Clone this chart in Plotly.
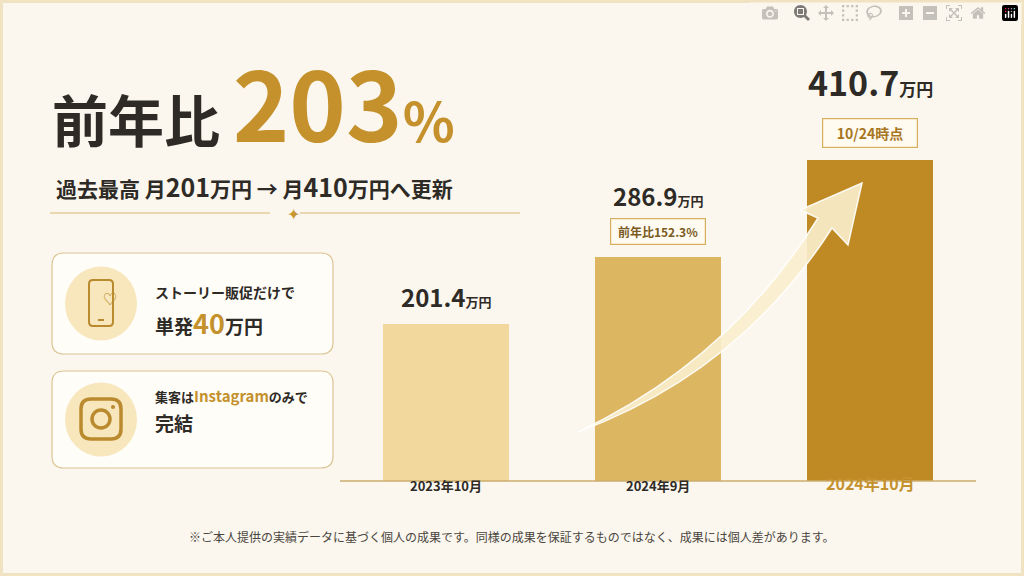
import plotly.graph_objects as go

categories = ["2023年10月", "2024年9月", "2024年10月"]
values = [201.4, 286.9, 410.7]
value_labels = ["201.4", "286.9", "410.7"]
pill_labels = [None, "前年比152.3%", "10/24時点"]
bar_colors = ["#F2D89C", "#DDB661", "#BF8A24"]

W, H = 1024, 576
F = "Noto Sans CJK JP"
DARK = "#2E2A26"
GOLD = "#C4912C"

def px(x): return x / W
def py(y): return 1 - y / H

fig = go.Figure()
fig.add_trace(go.Bar(x=categories, y=values, marker=dict(color=bar_colors, line=dict(width=0)),
                     width=0.59, hoverinfo="skip"))

shapes, ann = [], []

shapes.append(dict(type="rect", xref="paper", yref="paper", x0=0, y0=0, x1=1, y1=1,
                   line=dict(color="#F1E3C2", width=6), fillcolor="rgba(0,0,0,0)", layer="below"))

def rrect(x0, y0, x1, y1, r, **kw):
    p = (f"M {px(x0+r)} {py(y0)} L {px(x1-r)} {py(y0)} Q {px(x1)} {py(y0)} {px(x1)} {py(y0+r)} "
         f"L {px(x1)} {py(y1-r)} Q {px(x1)} {py(y1)} {px(x1-r)} {py(y1)} L {px(x0+r)} {py(y1)} "
         f"Q {px(x0)} {py(y1)} {px(x0)} {py(y1-r)} L {px(x0)} {py(y0+r)} Q {px(x0)} {py(y0)} {px(x0+r)} {py(y0)} Z")
    d = dict(type="path", xref="paper", yref="paper", path=p)
    d.update(kw)
    return d

for a, b in [(50, 270), (300, 520)]:
    shapes.append(dict(type="line", xref="paper", yref="paper", x0=px(a), x1=px(b), y0=py(213), y1=py(213),
                       line=dict(color="#D9B871", width=1.2)))
ann.append(dict(x=px(285), y=py(213), text="✦", font=dict(size=16, color="#C9962E")))

for y0, y1 in [(253, 354), (371, 468)]:
    shapes.append(rrect(52, y0, 333, y1, 12, fillcolor="#FFFDF8", line=dict(color="#DCC494", width=1.2)))
    cy = (y0 + y1) / 2
    shapes.append(dict(type="circle", xref="paper", yref="paper", x0=px(65), x1=px(137), y0=py(cy + 37), y1=py(cy - 37),
                       fillcolor="#F8E6BC", line=dict(width=0)))
shapes.append(rrect(89, 280, 113, 326, 4, fillcolor="rgba(0,0,0,0)", line=dict(color="#B98A2E", width=2)))
shapes.append(dict(type="line", xref="paper", yref="paper", x0=px(98), x1=px(104), y0=py(320), y1=py(320),
                   line=dict(color="#B98A2E", width=2)))
ann.append(dict(x=px(101), y=py(298), text="♡", font=dict(size=14, color="#B98A2E")))
shapes.append(rrect(81, 399, 121, 439, 10, fillcolor="rgba(0,0,0,0)", line=dict(color="#B98A2E", width=3.5)))
shapes.append(dict(type="circle", xref="paper", yref="paper", x0=px(92), x1=px(110), y0=py(428), y1=py(410),
                   fillcolor="rgba(0,0,0,0)", line=dict(color="#B98A2E", width=3.5)))
shapes.append(dict(type="circle", xref="paper", yref="paper", x0=px(111), x1=px(115), y0=py(409), y1=py(405),
                   fillcolor="#B98A2E", line=dict(width=0)))

ann.append(dict(x=px(153), y=py(292), xanchor="left", text="<b>ストーリー販促だけで</b>", font=dict(size=14, color=DARK)))
ann.append(dict(x=px(153), y=py(322), xanchor="left",
                text=f"<b>単発<span style='color:{GOLD};font-size:27px'>40</span>万円</b>", font=dict(size=19, color=DARK)))
ann.append(dict(x=px(153), y=py(408), xanchor="left",
                text=f"<b>集客は<span style='color:{GOLD};font-size:15px'>Instagram</span>のみで</b>", font=dict(size=13, color=DARK)))
ann.append(dict(x=px(153), y=py(438), xanchor="left", text="<b>完結</b>", font=dict(size=19, color=DARK)))

ann.append(dict(x=px(50), y=py(100), xanchor="left", yanchor="middle",
                text=(f"<b>前年比 <span style='font-size:96px;color:{GOLD}'>203</span>"
                      f"<span style='font-size:54px;color:{GOLD}'>%</span></b>"),
                font=dict(size=56, color=DARK)))
ann.append(dict(x=px(54), y=py(166), xanchor="left",
                text="<b>過去最高 月<span style='font-size:25px'>201</span>万円 → 月<span style='font-size:25px'>410</span>万円へ更新</b>",
                font=dict(size=21, color=DARK)))

arrow = (f"M {px(578)} {py(432)} Q {px(730)} {py(360)} {px(818)} {py(218)} L {px(800)} {py(210)} "
         f"L {px(862)} {py(183)} L {px(848)} {py(245)} L {px(832)} {py(228)} Q {px(740)} {py(372)} {px(578)} {py(432)} Z")
shapes.append(dict(type="path", xref="paper", yref="paper", path=arrow,
                   fillcolor="rgba(250,238,205,0.9)", line=dict(color="rgba(255,255,255,0.9)", width=1.5)))

for i, (c, v, lab, pill) in enumerate(zip(categories, values, value_labels, pill_labels)):
    big = 34 if i == 2 else 24
    small = 17 if i == 2 else 13
    ann.append(dict(x=c, y=v, xref="x", yref="y", yanchor="bottom", yshift=(52 if i == 2 else (42 if pill else 8)),
                    text=f"<b>{lab}<span style='font-size:{small}px'>万円</span></b>", font=dict(size=big, color=DARK)))
    if pill:
        ann.append(dict(x=c, y=v, xref="x", yref="y", yanchor="bottom", yshift=(12 if i == 2 else 12),
                        text=(f"<b>   {pill}   </b>" if i == 2 else f"<b> {pill} </b>"),
                        font=dict(size=(14 if i == 2 else 12), color=("#A8761E" if i == 2 else "#7A5A22")),
                        bgcolor="#FFFBF0", bordercolor="#D6AE5C", borderwidth=1.2, borderpad=4))
    ann.append(dict(x=c, xref="x", y=py(497), yref="paper",
                    text=f"<b>{c}</b>", font=dict(size=(16 if i == 2 else 13), color=(GOLD if i == 2 else DARK))))

shapes.append(dict(type="line", xref="paper", yref="paper", x0=px(340), x1=px(976), y0=py(481), y1=py(481),
                   line=dict(color="#CDAE6E", width=1.5)))

ann.append(dict(x=0.5, y=py(547), text="※ご本人提供の実績データに基づく個人の成果です。同様の成果を保証するものではなく、成果には個人差があります。",
                font=dict(size=12, color="#4A4540")))

for a in ann:
    a.setdefault("xref", "paper"); a.setdefault("yref", "paper"); a.setdefault("showarrow", False)

fig.update_layout(
    width=W, height=H, margin=dict(l=0, r=0, t=0, b=0),
    paper_bgcolor="#FBF7EE", plot_bgcolor="rgba(0,0,0,0)",
    font=dict(family=F), showlegend=False, bargap=0,
    xaxis=dict(domain=[px(340), px(976)], range=[-0.5, 2.5], showticklabels=False, showgrid=False, zeroline=False),
    yaxis=dict(domain=[py(481), py(40)], range=[0, 565], visible=False),
    shapes=shapes, annotations=ann,
)
fig.write_html("out.html")
with open("out.html", encoding="utf-8") as f:
    html = f.read()
html = html.replace("<head>", "<head><style>html,body{margin:0;padding:0;overflow:hidden;background:#FBF7EE}</style>", 1)
with open("out.html", "w", encoding="utf-8") as f:
    f.write(html)
